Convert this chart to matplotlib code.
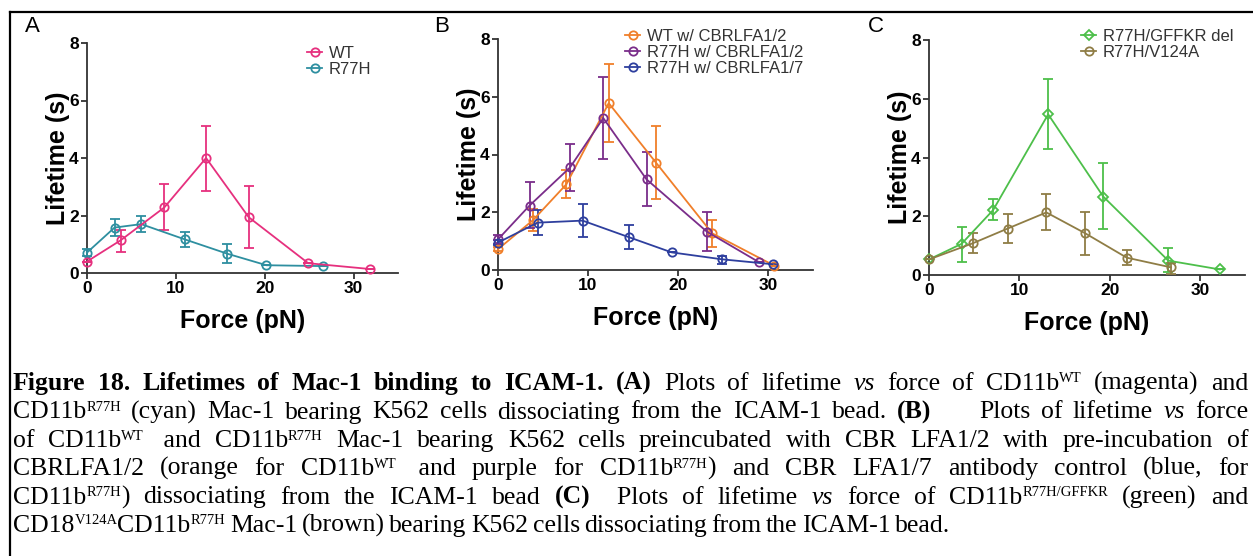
import re
import matplotlib
matplotlib.use("Agg")
import matplotlib.pyplot as plt
from matplotlib.lines import Line2D
import numpy as np

plt.rcParams['font.family'] = 'Liberation Sans'

# panel A
a_wt_x = [0, 3.8, 8.7, 13.4, 18.2, 24.9, 31.8]
a_wt_y = [0.4, 1.14, 2.28, 4.0, 1.94, 0.34, 0.14]
a_wt_lo = [0.4, 0.74, 1.49, 2.86, 0.87, 0.34, 0.14]
a_wt_hi = [0.4, 1.51, 3.09, 5.13, 3.03, 0.34, 0.14]

a_mut_x = [0, 3.1, 6.1, 11.0, 15.8, 20.2, 26.6]
a_mut_y = [0.71, 1.58, 1.70, 1.17, 0.67, 0.27, 0.24]
a_mut_lo = [0.6, 1.29, 1.41, 0.92, 0.36, 0.27, 0.24]
a_mut_hi = [0.85, 1.87, 1.98, 1.41, 1.02, 0.27, 0.24]

# panel B
b_wt_x = [0, 3.9, 7.6, 12.3, 17.6, 23.8, 30.7]
b_wt_y = [0.72, 1.73, 2.97, 5.78, 3.70, 1.27, 0.15]
b_wt_lo = [0.65, 1.35, 2.49, 4.45, 2.46, 0.79, 0.15]
b_wt_hi = [0.8, 2.1, 3.47, 7.12, 4.97, 1.73, 0.15]

b_mut_x = [0, 3.5, 8.0, 11.7, 16.5, 23.2, 29.0]
b_mut_y = [1.06, 2.23, 3.55, 5.26, 3.14, 1.33, 0.27]
b_mut_lo = [0.9, 1.45, 2.75, 3.84, 2.22, 0.67, 0.27]
b_mut_hi = [1.2, 3.04, 4.36, 6.67, 4.07, 2.02, 0.27]

b_ctl_x = [0, 4.4, 9.4, 14.6, 19.3, 24.9, 30.5]
b_ctl_y = [0.95, 1.64, 1.71, 1.13, 0.61, 0.37, 0.2]
b_ctl_lo = [0.85, 1.21, 1.16, 0.72, 0.61, 0.2, 0.2]
b_ctl_hi = [1.05, 2.08, 2.29, 1.56, 0.61, 0.5, 0.2]

# panel C
c_del_x = [0, 3.6, 7.1, 13.2, 19.3, 26.5, 32.2]
c_del_y = [0.53, 1.06, 2.21, 5.47, 2.67, 0.49, 0.19]
c_del_lo = [0.53, 0.45, 1.87, 4.28, 1.55, 0.11, 0.19]
c_del_hi = [0.53, 1.65, 2.58, 6.67, 3.80, 0.91, 0.19]

c_v_x = [0, 4.85, 8.7, 13.0, 17.3, 21.9, 26.8]
c_v_y = [0.53, 1.08, 1.58, 2.13, 1.42, 0.59, 0.26]
c_v_lo = [0.53, 0.74, 1.10, 1.53, 0.68, 0.34, 0.05]
c_v_hi = [0.53, 1.44, 2.08, 2.75, 2.16, 0.85, 0.4]

W, H = 1253, 556
fig = plt.figure(figsize=(W / 100, H / 100), dpi=100)

# frame lines (top and left)
fig.add_artist(Line2D([10 / W, 1], [1 - 12 / H, 1 - 12 / H], color='black', lw=1.6))
fig.add_artist(Line2D([10 / W, 10 / W], [0, 1 - 12 / H], color='black', lw=1.6))


def panel(rect, series, letter, letter_xy):
    ax = fig.add_axes(rect)
    handles, labels = [], []
    for x, y, lo, hi, col, mk, lab in series:
        y = np.array(y)
        yerr = [y - np.array(lo), np.array(hi) - y]
        eb = ax.errorbar(x, y, yerr=yerr, color=col, marker=mk, mfc='none', mec=col,
                         ms=6 if mk == 'o' else 5, mew=1.3, lw=1.3, capsize=3.5,
                         elinewidth=1.3, capthick=1.3, clip_on=False, zorder=3)
        handles.append(eb[0])
        labels.append(lab)
    ax.set_xlim(0, 35)
    ax.set_ylim(0, 8)
    ax.set_xticks([0, 10, 20, 30])
    ax.set_yticks([0, 2, 4, 6, 8])
    for s in ['top', 'right']:
        ax.spines[s].set_visible(False)
    for s in ['left', 'bottom']:
        ax.spines[s].set_color('#333333')
        ax.spines[s].set_linewidth(1.3)
    ax.tick_params(direction='out', length=4, width=1.3, color='#333333',
                   labelsize=12.5, pad=2)
    for t in ax.get_xticklabels() + ax.get_yticklabels():
        t.set_fontweight('bold')
    ax.set_xlabel('Force (pN)', fontsize=18, fontweight='bold', labelpad=9)
    ax.set_ylabel('Lifetime (s)', fontsize=18, fontweight='bold', labelpad=-1)
    fig.text(letter_xy[0] / W, 1 - letter_xy[1] / H, letter, fontsize=16,
             ha='left', va='center')
    return ax, handles, labels


def add_legend(ax, handles, labels, leg_xy):
    ax.legend(handles, labels, loc='upper left',
              bbox_to_anchor=(leg_xy[0] / W, 1 - leg_xy[1] / H),
              bbox_transform=fig.transFigure, frameon=False, fontsize=12,
              handlelength=0.9, handletextpad=0.4, labelspacing=0.05,
              borderpad=0, borderaxespad=0, labelcolor='#333333')


ax, h, l = panel([87 / W, 1 - 273 / H, 311 / W, 230 / H],
                 [(a_mut_x, a_mut_y, a_mut_lo, a_mut_hi, '#2E8FA0', 'o', 'R77H'),
                  (a_wt_x, a_wt_y, a_wt_lo, a_wt_hi, '#E6307E', 'o', 'WT')],
                 'A', (25, 26))
add_legend(ax, h[::-1], l[::-1], (307, 46))

ax, h, l = panel([498 / W, 1 - 270 / H, 315 / W, 231 / H],
                 [(b_wt_x, b_wt_y, b_wt_lo, b_wt_hi, '#F07F2A', 'o', 'WT w/ CBRLFA1/2'),
                  (b_mut_x, b_mut_y, b_mut_lo, b_mut_hi, '#7A2D8A', 'o', 'R77H w/ CBRLFA1/2'),
                  (b_ctl_x, b_ctl_y, b_ctl_lo, b_ctl_hi, '#2E3F9E', 'o', 'R77H w/ CBRLFA1/7')],
                 'B', (434, 26))
add_legend(ax, h, l, (625, 29))

ax, h, l = panel([929 / W, 1 - 275 / H, 316 / W, 235 / H],
                 [(c_del_x, c_del_y, c_del_lo, c_del_hi, '#4DBF4A', 'D', 'R77H/GFFKR del'),
                  (c_v_x, c_v_y, c_v_lo, c_v_hi, '#8F7D45', 'o', 'R77H/V124A')],
                 'C', (868, 26))
add_legend(ax, h, l, (1081, 29))

# caption, justified line by line; ^{..} marks a superscript
caption_lines = [
    [('Figure', 'b'), ('18.', 'b'), ('Lifetimes', 'b'), ('of', 'b'), ('Mac-1', 'b'),
     ('binding', 'b'), ('to', 'b'), ('ICAM-1.', 'b'), ('(A)', 'b'), ('Plots', 'n'),
     ('of', 'n'), ('lifetime', 'n'), ('vs', 'i'), ('force', 'n'), ('of', 'n'),
     ('CD11b^{WT}', 'n'), ('(magenta)', 'n'), ('and', 'n')],
    [('CD11b^{R77H}', 'n'), ('(cyan)', 'n'), ('Mac-1', 'n'), ('bearing', 'n'),
     ('K562', 'n'), ('cells', 'n'), ('dissociating', 'n'), ('from', 'n'), ('the', 'n'),
     ('ICAM-1', 'n'), ('bead.', 'n'), ('(B)', 'b'), ('      ', 'n'), ('Plots', 'n'), ('of', 'n'),
     ('lifetime', 'n'), ('vs', 'i'), ('force', 'n')],
    [('of', 'n'), ('CD11b^{WT}', 'n'), (' and', 'n'), ('CD11b^{R77H}', 'n'),
     ('Mac-1', 'n'), ('bearing', 'n'), ('K562', 'n'), ('cells', 'n'), ('preincubated', 'n'),
     ('with', 'n'), ('CBR', 'n'), ('LFA1/2', 'n'), ('with', 'n'), ('pre-incubation', 'n'),
     ('of', 'n')],
    [('CBRLFA1/2', 'n'), ('(orange', 'n'), ('for', 'n'), ('CD11b^{WT}', 'n'),
     (' and', 'n'), ('purple', 'n'), ('for', 'n'), ('CD11b^{R77H})', 'n'),
     ('and', 'n'), ('CBR', 'n'), ('LFA1/7', 'n'), ('antibody', 'n'), ('control', 'n'),
     ('(blue,', 'n'), ('for', 'n')],
    [('CD11b^{R77H})', 'n'), ('dissociating', 'n'), ('from', 'n'), ('the', 'n'),
     ('ICAM-1', 'n'), ('bead', 'n'), ('(C)', 'b'), ('  Plots', 'n'), ('of', 'n'),
     ('lifetime', 'n'), ('vs', 'i'), ('force', 'n'), ('of', 'n'),
     ('CD11b^{R77H/GFFKR}', 'n'), ('(green)', 'n'), ('and', 'n')],
    [('CD18^{V124A}CD11b^{R77H}', 'n'), ('Mac-1', 'n'), ('(brown)', 'n'),
     ('bearing', 'n'), ('K562', 'n'), ('cells', 'n'), ('dissociating', 'n'), ('from', 'n'),
     ('the', 'n'), ('ICAM-1', 'n'), ('bead.', 'n')],
]
baselines = [390, 418.5, 447, 475, 503.5, 532]
x_left, x_right = 13, 1248
cap_size = 18.5
sup_size = 10.5
sup_rise = 7.5

fig.canvas.draw()
renderer = fig.canvas.get_renderer()
for i, (line, yb) in enumerate(zip(caption_lines, baselines)):
    words = []
    for word, st in line:
        parts = []
        for m in re.finditer(r'\^\{([^}]*)\}|([^^]+)', word):
            sup = m.group(1) is not None
            s = m.group(1) if sup else m.group(2)
            t = fig.text(0, 0, s, fontsize=sup_size if sup else cap_size,
                         family='Liberation Serif',
                         fontweight='bold' if st == 'b' else 'normal',
                         fontstyle='italic' if st == 'i' else 'normal',
                         va='baseline', ha='left')
            w = t.get_window_extent(renderer).width
            if s.strip() == '':
                w = len(s) * 4.5
            parts.append((t, w, sup))
        words.append(parts)
    widths = [sum(p[1] for p in parts) for parts in words]
    if i == len(caption_lines) - 1:
        gap = 4.5
    else:
        gap = (x_right - x_left - sum(widths)) / (len(words) - 1)
    x = x_left
    for parts, wsum in zip(words, widths):
        px = x
        for t, w, sup in parts:
            t.set_position((px / W, 1 - (yb - (sup_rise if sup else 0)) / H))
            px += w
        x += wsum + gap

fig.savefig('out.png', dpi=100)
